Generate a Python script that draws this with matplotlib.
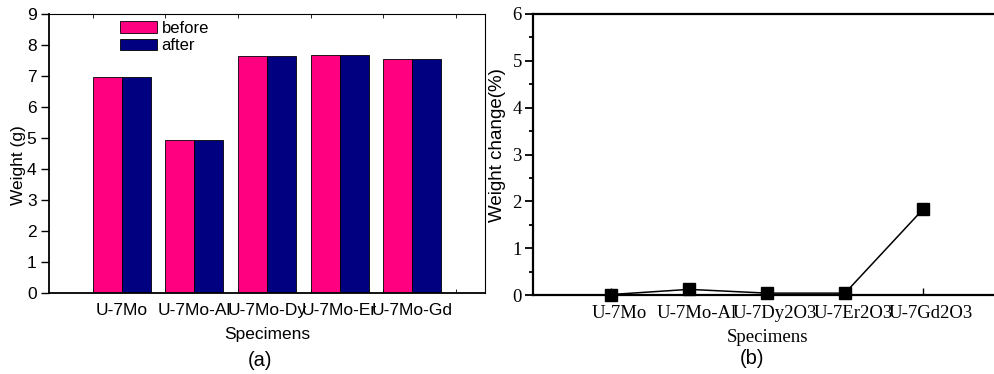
import numpy as np
import matplotlib
matplotlib.use("Agg")
import matplotlib.pyplot as plt
from matplotlib.patches import Patch

# panel (a): weights before / after
specimens_a = ["U-7Mo", "U-7Mo-Al", "U-7Mo-Dy", "U-7Mo-Er", "U-7Mo-Gd"]
weight_before = [6.98, 4.93, 7.65, 7.69, 7.56]
weight_after = [6.98, 4.93, 7.65, 7.69, 7.56]

# panel (b): weight change in percent
specimens_b = ["U-7Mo", "U-7Mo-Al", "U-7Dy2O3", "U-7Er2O3", "U-7Gd2O3"]
weight_change = [0.01, 0.12, 0.04, 0.04, 1.83]

PINK = "#ff0080"
NAVY = "#000080"
SANS = "Liberation Sans"
SERIF = "Liberation Serif"

W, H = 994, 374
fig = plt.figure(figsize=(W / 100, H / 100), dpi=100)


def box(x0, y0, x1, y1):
    # pixel box (top-left origin) -> figure fraction
    return [x0 / W, 1 - y1 / H, (x1 - x0) / W, (y1 - y0) / H]


# ---- (a) ----
ax1 = fig.add_axes(box(49, 14, 485, 293))
x = np.arange(1, len(specimens_a) + 1)
bw = 0.4
ax1.bar(x - bw / 2, weight_before, bw, color=PINK, edgecolor="black", lw=0.6)
ax1.bar(x + bw / 2, weight_after, bw, color=NAVY, edgecolor="black", lw=0.6)
ax1.set_xlim(0, 6)
ax1.set_ylim(0, 9)
ax1.set_yticks(range(10))
ax1.set_xticks(x)
ax1.set_xticklabels(specimens_a, fontsize=12.5, family=SANS)
ax1.tick_params(axis="x", length=0, pad=7)
ax1.set_xticks(np.arange(0.6, 6, 1.0), minor=True)
ax1.tick_params(axis="x", which="minor", direction="in", length=3, top=True, width=0.6)
ax1.tick_params(axis="y", direction="out", length=6, width=1, pad=3)
for lab in ax1.get_yticklabels():
    lab.set_family(SANS)
    lab.set_fontsize(12.5)
for s in ax1.spines.values():
    s.set_linewidth(0.8)
ax1.spines["left"].set_linewidth(1.3)
ax1.spines["bottom"].set_linewidth(1.3)
ax1.set_ylabel("Weight (g)", family=SANS, fontsize=12.5)
ax1.yaxis.set_label_coords(-0.052, 0.459)
ax1.set_xlabel("Specimens", family=SANS, fontsize=12.5, labelpad=7)
handles = [Patch(facecolor=PINK, edgecolor="black", lw=0.6, label="before"),
           Patch(facecolor=NAVY, edgecolor="black", lw=0.6, label="after")]
ax1.legend(handles=handles, loc="upper left", bbox_to_anchor=(0.163, 0.975),
           frameon=False, borderaxespad=0, borderpad=0, handlelength=2.2,
           handleheight=0.7, labelspacing=0.15, handletextpad=0.3,
           prop={"family": SANS, "size": 12})
fig.text(260 / W, 1 - 361 / H, "(a)", family=SANS, fontsize=14.5,
         ha="center", va="center")

# ---- (b) ----
ax2 = fig.add_axes(box(533, 14, 1001, 295))
xb = np.arange(1, len(specimens_b) + 1)
ax2.plot(xb, weight_change, color="black", lw=1.1, marker="s", ms=8,
         markerfacecolor="black", clip_on=False, zorder=5)
ax2.set_xlim(0, 6)
ax2.set_ylim(0, 6)
ax2.set_yticks(range(7))
ax2.set_yticks(np.arange(0.5, 6, 1.0), minor=True)
# labels sit a little right of the tick marks, as in the original
ax2.set_xticks(xb + 0.1)
ax2.set_xticklabels(specimens_b, fontsize=13.5, family=SERIF)
ax2.tick_params(axis="x", which="major", length=0, pad=7)
ax2.set_xticks(xb, minor=True)
ax2.tick_params(axis="x", which="minor", direction="in", length=5, width=1)
ax2.tick_params(axis="y", which="major", direction="out", length=6, width=1.3, pad=2)
ax2.tick_params(axis="y", which="minor", direction="out", length=3, width=1.3)
for lab in ax2.get_yticklabels():
    lab.set_family(SERIF)
    lab.set_fontsize(13.5)
ax2.spines["right"].set_visible(False)
for s in ("left", "bottom", "top"):
    ax2.spines[s].set_linewidth(1.6)
ax2.set_ylabel("Weight change(%)", family=SANS, fontsize=13.5)
ax2.yaxis.set_label_coords(-0.0575, 0.534)
ax2.set_xlabel("Specimens", family=SERIF, fontsize=13.5, labelpad=5)
fig.text(752 / W, 1 - 358 / H, "(b)", family=SANS, fontsize=14.5,
         ha="center", va="center")

fig.savefig("out.png", dpi=100)
